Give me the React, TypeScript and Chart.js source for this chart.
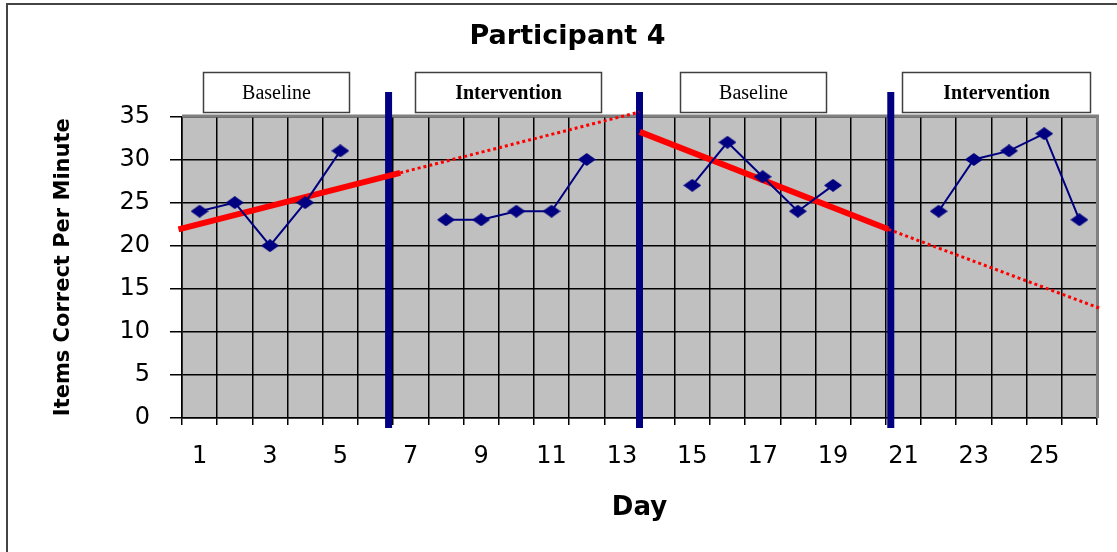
import React, { useEffect, useRef } from 'react';
import { Chart, registerables } from 'chart.js';

Chart.register(...registerables);

// ---- data ----
const days = [1, 2, 3, 4, 5, 6, 7, 8, 9, 10, 11, 12, 13, 14, 15, 16, 17, 18, 19, 20, 21, 22, 23, 24, 25, 26];
const itemsCorrect = [24, 25, 20, 25, 31, null, null, 23, 23, 24, 24, 30, null, null, 27, 32, 28, 24, 27, null, null, 24, 30, 31, 33, 23];
const dayTickLabels = [1, 3, 5, 7, 9, 11, 13, 15, 17, 19, 21, 23, 25];
const phaseNames = ['Baseline', 'Intervention', 'Baseline', 'Intervention'];
const phaseChangeDays = [6.37, 13.5, 20.64];

// trend lines (day, value)
const trend1SolidDays = [0.4, 6.7];
const trend1SolidValues = [21.9, 28.45];
const trend1DottedDays = [6.7, 13.49];
const trend1DottedValues = [28.45, 35.5];
const trend2SolidDays = [13.51, 20.57];
const trend2SolidValues = [33.2, 21.9];
const trend2DottedDays = [20.57, 26.6];
const trend2DottedValues = [21.9, 12.7];

const gridBoundaries = [...days.map((d) => d - 0.5), days[days.length - 1] + 0.5];

const zip = (xs: number[], ys: number[]) => xs.map((x, i) => ({ x, y: ys[i] }));

const TICK_FONT = { family: '"DejaVu Sans", sans-serif', size: 24 };

const decorPlugin = {
  id: 'decor',
  beforeDraw(chart: any, _args: any, opts: any) {
    const { ctx, chartArea: a } = chart;
    ctx.save();
    ctx.fillStyle = opts.plotBg;
    ctx.fillRect(a.left, a.top, a.right - a.left, a.bottom - a.top);
    ctx.strokeStyle = opts.frameColor;
    ctx.lineWidth = 2;
    ctx.beginPath();
    ctx.moveTo(7, chart.height);
    ctx.lineTo(7, 4);
    ctx.lineTo(chart.width, 4);
    ctx.stroke();
    ctx.restore();
  },
  beforeDatasetsDraw(chart: any, _args: any, opts: any) {
    const { ctx, chartArea: a, scales } = chart;
    const xs = scales.x;
    ctx.save();
    ctx.strokeStyle = opts.plotBorder;
    ctx.lineWidth = 3;
    ctx.beginPath();
    ctx.moveTo(a.left, a.top - 0.5);
    ctx.lineTo(a.right + 0.5, a.top - 0.5);
    ctx.lineTo(a.right + 0.5, a.bottom);
    ctx.stroke();
    ctx.strokeStyle = opts.phaseLineColor;
    ctx.lineWidth = 7;
    ctx.lineCap = 'butt';
    phaseChangeDays.forEach((d) => {
      const px = xs.getPixelForValue(d);
      ctx.beginPath();
      ctx.moveTo(px, a.top - 24.5);
      ctx.lineTo(px, a.bottom + 10);
      ctx.stroke();
    });
    ctx.restore();
  },
  afterDraw(chart: any, _args: any, opts: any) {
    const { ctx, chartArea: a, scales } = chart;
    const xs = scales.x;
    ctx.save();
    phaseNames.forEach((name, i) => {
      const x1 = Math.round(xs.getPixelForValue(opts.boxFrom[i])) + 0.5;
      const x2 = Math.round(xs.getPixelForValue(opts.boxTo[i])) + 0.5;
      const y1 = Math.round(a.top - 44) + 0.5;
      const y2 = Math.round(a.top - 4) + 0.5;
      ctx.fillStyle = '#ffffff';
      ctx.fillRect(x1, y1, x2 - x1, y2 - y1);
      ctx.strokeStyle = '#404040';
      ctx.lineWidth = 1.5;
      ctx.strokeRect(x1, y1, x2 - x1, y2 - y1);
      ctx.fillStyle = '#000000';
      const bold = opts.boldNames.includes(name);
      ctx.font = `${bold ? 'bold ' : ''}20px "Liberation Serif", serif`;
      ctx.textAlign = 'center';
      ctx.textBaseline = 'middle';
      ctx.fillText(name, (x1 + x2) / 2, (y1 + y2) / 2 + 1);
    });
    ctx.restore();
  },
};

export default function App() {
  const ref = useRef<HTMLCanvasElement | null>(null);

  useEffect(() => {
    if (!ref.current) return;
    const marker = document.createElement('canvas');
    marker.width = 18;
    marker.height = 13;
    const mc = marker.getContext('2d')!;
    mc.fillStyle = '#000080';
    mc.beginPath();
    mc.moveTo(0, 6.5);
    mc.lineTo(9, 0);
    mc.lineTo(18, 6.5);
    mc.lineTo(9, 13);
    mc.closePath();
    mc.fill();

    const chart = new Chart(ref.current, {
      type: 'line',
      data: {
        datasets: [
          {
            label: 'Items Correct Per Minute',
            data: days.map((d, i) => ({ x: d, y: itemsCorrect[i] })) as any,
            borderColor: '#000080',
            backgroundColor: '#000080',
            borderWidth: 2,
            pointStyle: marker as any,
            pointRadius: 9,
            spanGaps: false,
            order: 0,
          },
          {
            label: 'Trend 1',
            data: zip(trend1SolidDays, trend1SolidValues),
            borderColor: '#FF0000',
            borderWidth: 6,
            pointRadius: 0,
            clip: false as any,
            order: 1,
          },
          {
            label: 'Trend 1 projection',
            data: zip(trend1DottedDays, trend1DottedValues),
            borderColor: '#FF0000',
            borderWidth: 3,
            borderDash: [3, 3],
            pointRadius: 0,
            clip: false as any,
            order: 2,
          },
          {
            label: 'Trend 2',
            data: zip(trend2SolidDays, trend2SolidValues),
            borderColor: '#FF0000',
            borderWidth: 6,
            pointRadius: 0,
            clip: false as any,
            order: 1,
          },
          {
            label: 'Trend 2 projection',
            data: zip(trend2DottedDays, trend2DottedValues),
            borderColor: '#FF0000',
            borderWidth: 3,
            borderDash: [3, 3],
            pointRadius: 0,
            clip: false as any,
            order: 2,
          },
        ],
      },
      options: {
        responsive: false,
        devicePixelRatio: 1,
        animation: false,
        events: [],
        layout: { padding: { left: 38, right: 20, top: 0, bottom: 0 } },
        plugins: {
          legend: { display: false },
          tooltip: { enabled: false },
          title: {
            display: true,
            text: 'Participant 4',
            color: '#000000',
            font: { family: '"DejaVu Sans", sans-serif', size: 27, weight: 'bold' },
            padding: { top: 21, bottom: 63 },
          },
          decor: {
            plotBg: '#C0C0C0',
            frameColor: '#444444',
            plotBorder: '#808080',
            phaseLineColor: '#000080',
            boxFrom: [1.1, 7.12, 14.64, 20.97],
            boxTo: [5.25, 12.4, 18.8, 26.3],
            boldNames: ['Intervention'],
          },
        } as any,
        scales: {
          x: {
            type: 'linear',
            position: 'bottom',
            weight: 0,
            min: 0.5,
            max: 26.5,
            afterBuildTicks: (axis: any) => {
              axis.ticks = gridBoundaries.map((v) => ({ value: v }));
            },
            ticks: { display: false },
            grid: { color: '#000000', lineWidth: 1.5, tickLength: 7, drawTicks: true },
            border: { display: true, color: '#000000', width: 1.5 },
          },
          xl: {
            type: 'linear',
            position: 'bottom',
            weight: 1,
            min: 0.5,
            max: 26.5,
            afterBuildTicks: (axis: any) => {
              axis.ticks = dayTickLabels.map((v) => ({ value: v }));
            },
            ticks: {
              autoSkip: false,
              maxRotation: 0,
              color: '#000000',
              font: TICK_FONT,
              padding: 17.5,
              callback: (v: any) => String(v),
            },
            grid: { display: false, drawTicks: false },
            border: { display: false },
            title: {
              display: true,
              text: 'Day',
              color: '#000000',
              font: { family: '"DejaVu Sans", sans-serif', size: 26, weight: 'bold' },
              padding: { top: 4, bottom: 28 },
            },
          },
          y: {
            type: 'linear',
            min: 0,
            max: 35,
            afterFit: (axis: any) => {
              axis.width = 144;
            },
            ticks: { stepSize: 5, color: '#000000', font: TICK_FONT, padding: 20 },
            grid: { color: '#000000', lineWidth: 1.5, tickLength: 12 },
            border: { display: true, color: '#000000', width: 1.5 },
            title: {
              display: true,
              text: 'Items Correct Per Minute',
              color: '#000000',
              font: { family: '"DejaVu Sans", sans-serif', size: 21, weight: 'bold' },
              padding: { top: 13, bottom: 0 },
            },
          },
        } as any,
      },
      plugins: [decorPlugin],
    });
    return () => chart.destroy();
  }, []);

  return (
    <div style={{ position: 'absolute', left: 0, top: 0, width: 1117, height: 552, background: '#ffffff' }}>
      <canvas ref={ref} width={1117} height={552} style={{ width: '1117px', height: '552px' }} />
    </div>
  );
}
